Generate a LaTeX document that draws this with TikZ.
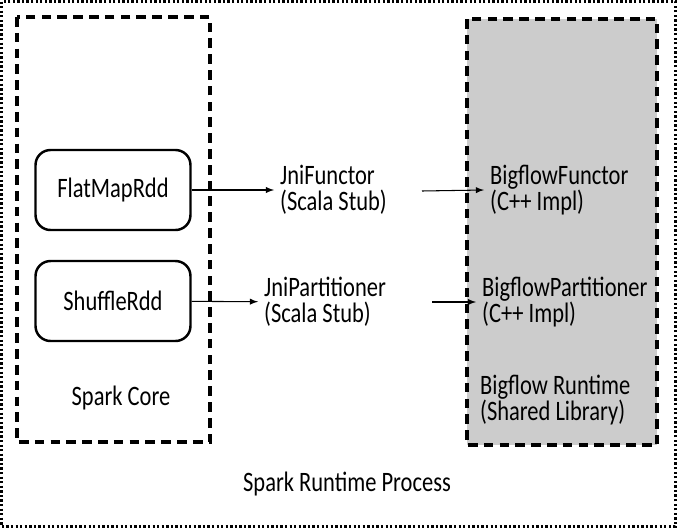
\documentclass[tikz,border=0pt]{standalone}
\usepackage{fontspec}
\setmainfont[FakeStretch=0.8]{Carlito}
\usetikzlibrary{arrows,positioning}

\definecolor{rtgray}{RGB}{204,204,204}
\tikzset{
  procline/.style={line width=1.5pt, dash pattern=on 1.3pt off 1.3pt},
  coreline/.style={line width=2.2pt, dash pattern=on 5.5pt off 3.5pt},
  rddbox/.style={draw, line width=1.4pt, rounded corners=0.3cm, minimum width=3.1cm, minimum height=1.6cm},
  lbl/.style={align=left, anchor=west},
  arr/.style={-latex, line width=0.6pt},
}

\begin{document}
\begin{tikzpicture}[x=0.02cm,y=-0.02cm,font=\fontsize{16}{15}\selectfont]
\useasboundingbox (0,0) rectangle (677,528);
% process and library frames
\draw[procline] (1.5,1.5) rectangle (675.5,526.5);
\draw[coreline] (17,17) rectangle (210,442);
\filldraw[coreline,fill=rtgray] (467,19) rectangle (657,445);

% rdds
\node[rddbox] (flatmap) at (113,190) {FlatMapRdd};
\node[rddbox] (shuffle) at (113,301) {ShuffleRdd};

% stubs and impls
\node[lbl] (jnifn) at (274,190) {JniFunctor\\(Scala Stub)};
\node[lbl] (jnipart) at (258,302) {JniPartitioner\\(Scala Stub)};
\node[lbl] (bigfn) at (484,190) {BigflowFunctor\\(C++ Impl)};
\node[lbl] (bigpart) at (476,302) {BigflowPartitioner\\(C++ Impl)};
\coordinate (fnout) at (422,191);
\coordinate (partout) at (432,302);

\draw[arr] (flatmap) -- (jnifn);
\draw[arr] (shuffle) -- (jnipart);
\draw[arr] (fnout) -- (bigfn.west);
\draw[arr] (partout) -- (bigpart.west);

% labels
\node (core) at (121,398) {Spark Core};
\node[lbl] (bigrt) at (474,400) {Bigflow Runtime\\(Shared Library)};
\node (proc) at (347,484) {Spark Runtime Process};
\end{tikzpicture}
\end{document}
